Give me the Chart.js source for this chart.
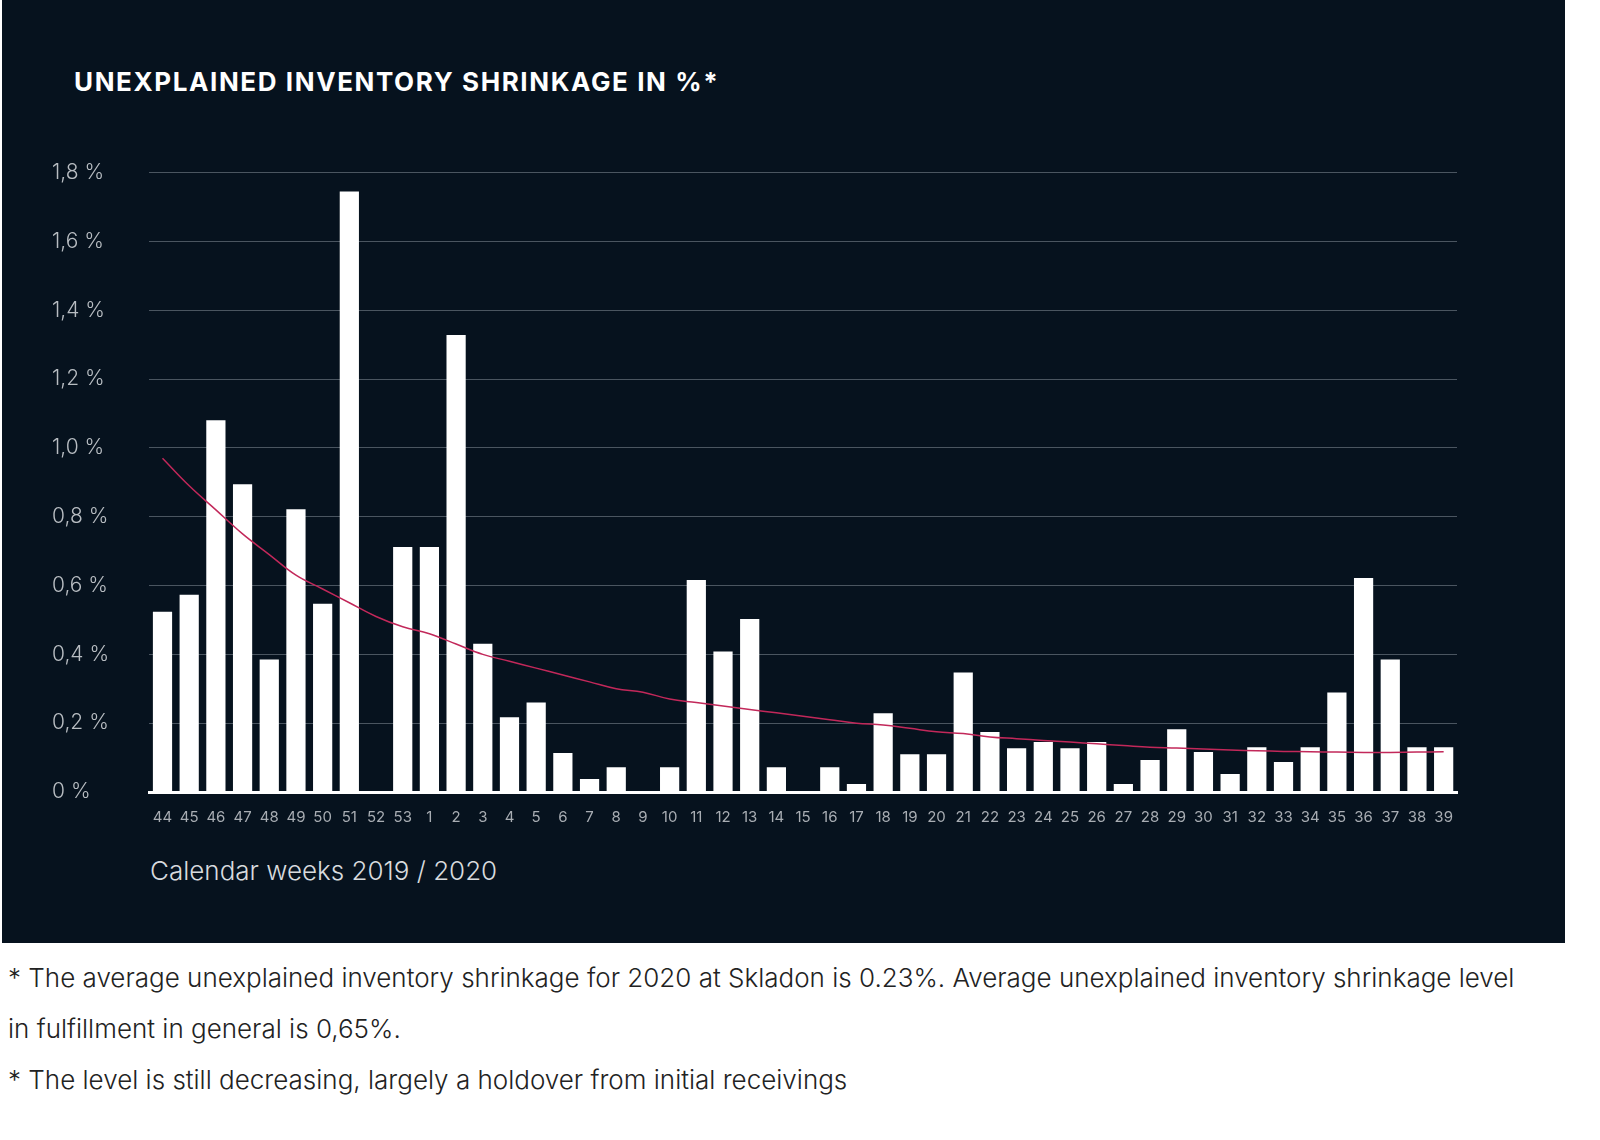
<!DOCTYPE html>
<html><head><meta charset="utf-8">
<script src="https://cdn.jsdelivr.net/npm/chart.js@4"></script>
<style>
body{margin:0;background:#fff;width:1600px;height:1140px;position:relative;font-family:Inter,"Open Sans",sans-serif;}
#panel{position:absolute;left:2px;top:0;width:1563px;height:943px;background:#06121e;}
#title{position:absolute;left:72px;top:66px;color:#fff;font-weight:700;font-size:26px;letter-spacing:1.6px;}
#xt{position:absolute;left:148px;top:855px;color:#d8dbde;font-size:26px;font-weight:300;}
#wrap{position:absolute;left:0;top:140px;width:1563px;height:694px;}
.fn{position:absolute;left:8px;color:#222;font-size:26px;font-weight:300;}
</style></head><body>
<div id="panel">
<div id="title">UNEXPLAINED INVENTORY SHRINKAGE IN %*</div>
<div id="wrap"><canvas id="c"></canvas></div>
<div id="xt">Calendar weeks 2019 / 2020</div>
</div>
<div class="fn" style="top:962px">* The average unexplained inventory shrinkage for 2020 at Skladon is 0.23%. Average unexplained inventory shrinkage level</div>
<div class="fn" style="top:1013px">in fulfillment in general is 0,65%.</div>
<div class="fn" style="top:1064px">* The level is still decreasing, largely a holdover from initial receivings</div>
<script>
const weeks=["44","45","46","47","48","49","50","51","52","53","1","2","3","4","5","6","7","8","9","10","11","12","13","14","15","16","17","18","19","20","21","22","23","24","25","26","27","28","29","30","31","32","33","34","35","36","37","38","39"];
const shrinkage=[0.524,0.573,1.08,0.894,0.385,0.822,0.547,1.745,0,0.712,0.712,1.328,0.431,0.217,0.26,0.113,0.038,0.072,0,0.072,0.616,0.408,0.503,0.072,0,0.072,0.023,0.229,0.11,0.11,0.347,0.174,0.127,0.145,0.127,0.145,0.023,0.093,0.182,0.116,0.052,0.13,0.087,0.13,0.289,0.622,0.385,0.13,0.13];
const trend=[0.97,0.89,0.82,0.75,0.69,0.63,0.59,0.55,0.51,0.48,0.46,0.43,0.40,0.38,0.36,0.34,0.32,0.30,0.29,0.27,0.26,0.25,0.24,0.23,0.22,0.21,0.20,0.195,0.185,0.175,0.17,0.16,0.155,0.15,0.145,0.14,0.135,0.13,0.128,0.125,0.122,0.12,0.118,0.117,0.116,0.115,0.115,0.116,0.117];
const yTicks=[0,0.2,0.4,0.6,0.8,1.0,1.2,1.4,1.6,1.8];
new Chart(document.getElementById('c'),{
 data:{labels:weeks,datasets:[
  {type:'line',data:trend,borderColor:'#c2285a',borderWidth:1.5,pointRadius:0,tension:0.4,order:0},
  {type:'bar',data:shrinkage,backgroundColor:'#ffffff',barPercentage:0.72,categoryPercentage:1,order:1}
 ]},
 options:{responsive:true,maintainAspectRatio:false,animation:false,
  layout:{padding:{left:50,right:108,top:0,bottom:0}},
  plugins:{legend:{display:false},tooltip:{enabled:false}},
  scales:{
   x:{offset:true,grid:{display:false},border:{color:'#ffffff',width:3},
      ticks:{color:'#a8adb3',font:{family:'Inter',size:15},maxRotation:0,autoSkip:false,padding:8}},
   y:{min:0,max:1.8,afterBuildTicks:a=>{a.ticks=yTicks.map(v=>({value:v}));},
      grid:{color:'#4a5560',drawTicks:false},border:{display:false},
      ticks:{color:'#b8bdc2',font:{family:'Inter',size:21,weight:300},padding:20,crossAlign:'far',
        callback:v=>v===0?'0 %':v.toFixed(1).replace('.',',')+' %'}}
  }}
});
</script>
</body></html>
